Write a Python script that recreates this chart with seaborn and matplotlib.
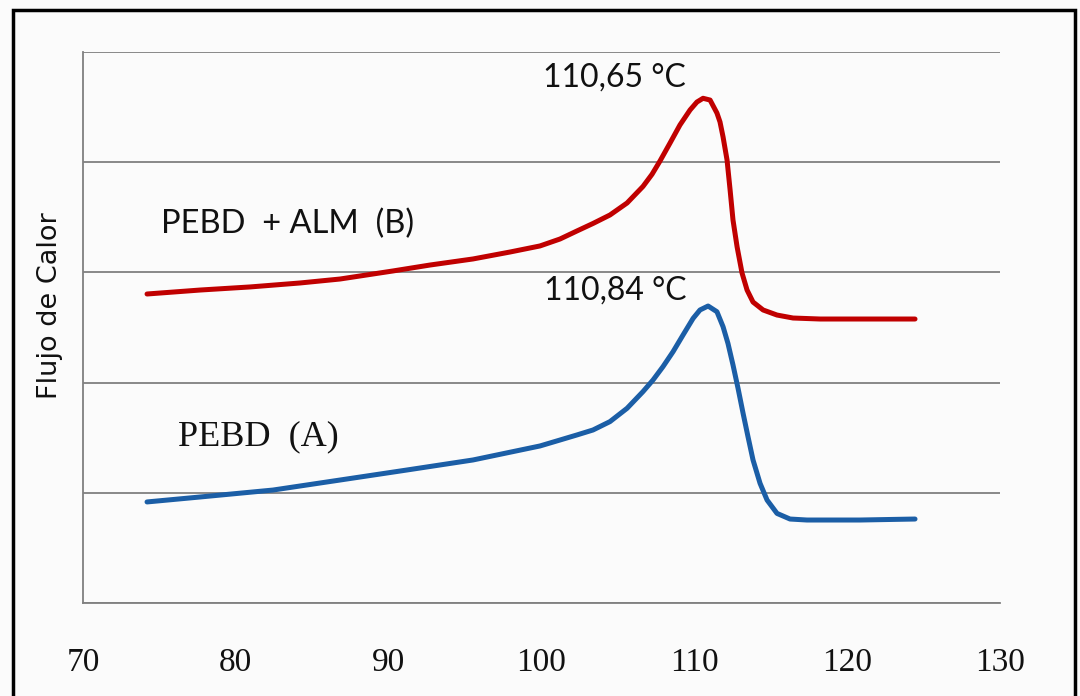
import matplotlib
matplotlib.use("Agg")
import matplotlib.pyplot as plt
import seaborn as sns
import pandas as pd
from matplotlib.patches import Rectangle

# Temperatures (°C) and heat-flow values (arbitrary units)
temp_b = [74.19, 77.66, 80.93, 84.20, 86.82, 90.28, 92.71, 95.52, 97.94, 99.90,
          101.21, 102.32, 103.37, 104.48, 105.60, 106.64, 107.23, 107.75, 108.41,
          109.06, 109.72, 110.17, 110.57, 111.03, 111.48, 111.68, 111.88, 112.14,
          112.34, 112.53, 112.80, 113.12, 113.45, 113.84, 114.50, 115.41, 116.46,
          118.23, 121.50, 124.44]
flow_b = [2.804, 2.840, 2.868, 2.904, 2.940, 3.013, 3.067, 3.122, 3.185, 3.240,
          3.303, 3.376, 3.444, 3.521, 3.630, 3.780, 3.890, 4.010, 4.174,
          4.338, 4.474, 4.546, 4.580, 4.564, 4.446, 4.365, 4.229, 4.020,
          3.748, 3.475, 3.230, 2.995, 2.840, 2.731, 2.659, 2.613, 2.586,
          2.577, 2.577, 2.577]

temp_a = [74.19, 77.66, 82.43, 86.82, 91.20, 95.52, 99.90, 101.21, 102.32, 103.37,
          104.48, 105.60, 106.64, 107.30, 107.95, 108.61, 109.26, 109.92, 110.37,
          110.90, 111.48, 111.88, 112.20, 112.53, 112.86, 113.19, 113.51, 113.84,
          114.30, 114.76, 115.41, 116.26, 117.37, 118.23, 120.84, 124.44]
flow_a = [0.917, 0.962, 1.025, 1.116, 1.207, 1.298, 1.425, 1.479, 1.525, 1.570,
          1.646, 1.767, 1.918, 2.024, 2.145, 2.281, 2.432, 2.583, 2.659,
          2.695, 2.643, 2.507, 2.356, 2.160, 1.948, 1.721, 1.510, 1.298,
          1.086, 0.934, 0.813, 0.762, 0.753, 0.753, 0.753, 0.762]

series_names = ["PEBD + ALM (B)", "PEBD (A)"]
series_colors = ["#C00000", "#1B5EA6"]
x_ticks = [70, 80, 90, 100, 110, 120, 130]
peak_labels = ["110,65 °C", "110,84 °C"]

df = pd.concat([
    pd.DataFrame({"T": temp_b, "Q": flow_b, "serie": series_names[0]}),
    pd.DataFrame({"T": temp_a, "Q": flow_a, "serie": series_names[1]}),
])

sns.set_theme(style="white")
plt.rcParams["font.family"] = ["DejaVu Sans"]

fig = plt.figure(figsize=(10.8, 6.96), dpi=100, facecolor="#fbfbfb")
ax = fig.add_axes([83/1080, 1-603/696, (1000-83)/1080, (603-52)/696])
ax.set_facecolor("#fbfbfb")

sns.lineplot(data=df, x="T", y="Q", hue="serie", palette=dict(zip(series_names, series_colors)),
             linewidth=3.6, legend=False, ax=ax, sort=False, estimator=None)
for ln in ax.get_lines():
    ln.set_solid_joinstyle("round")
    ln.set_solid_capstyle("round")

ax.set_xlim(70, 130)
ax.set_ylim(0, 5)
ax.set_xticks(x_ticks)
ax.set_xticklabels([str(t) for t in x_ticks], family="Liberation Serif", fontsize=24,
                   color="#111111")
ax.set_yticks([0, 1, 2, 3, 4, 5])
ax.set_yticklabels([])
ax.tick_params(axis="both", length=0)
ax.tick_params(axis="x", pad=32)
ax.grid(axis="y", color="#808080", linewidth=1.3)
ax.grid(axis="x", visible=False)
ax.set_axisbelow(True)
for s in ["top", "right"]:
    ax.spines[s].set_visible(False)
for s in ["left", "bottom"]:
    ax.spines[s].set_color("#808080")
    ax.spines[s].set_linewidth(1.3)

ax.set_xlabel("")
ax.set_ylabel("Flujo de Calor", family="DejaVu Sans", fontsize=19.5, color="#111111")
ax.yaxis.set_label_coords(-0.022, 0.54)

ax.text(104.8, 4.77, peak_labels[0], family="Lato", fontsize=23, ha="center", va="center", color="#111111")
ax.text(104.8, 2.84, peak_labels[1], family="Lato", fontsize=23, ha="center", va="center", color="#111111")
ax.text(75.1, 3.44, "PEBD  + ALM  (B)", family="Lato", fontsize=23.5, ha="left", va="center", color="#111111")
ax.text(76.2, 1.51, "PEBD  (A)", family="Liberation Serif", fontsize=26, ha="left", va="center", color="#111111")

# outer frame
fig.patches.append(Rectangle((13/1080, -0.05), (1075-13)/1080, 1.05 - 10/696,
                             transform=fig.transFigure, fill=False, edgecolor="black",
                             linewidth=2.5, figure=fig))

fig.savefig("out.png", dpi=100, facecolor=fig.get_facecolor())
